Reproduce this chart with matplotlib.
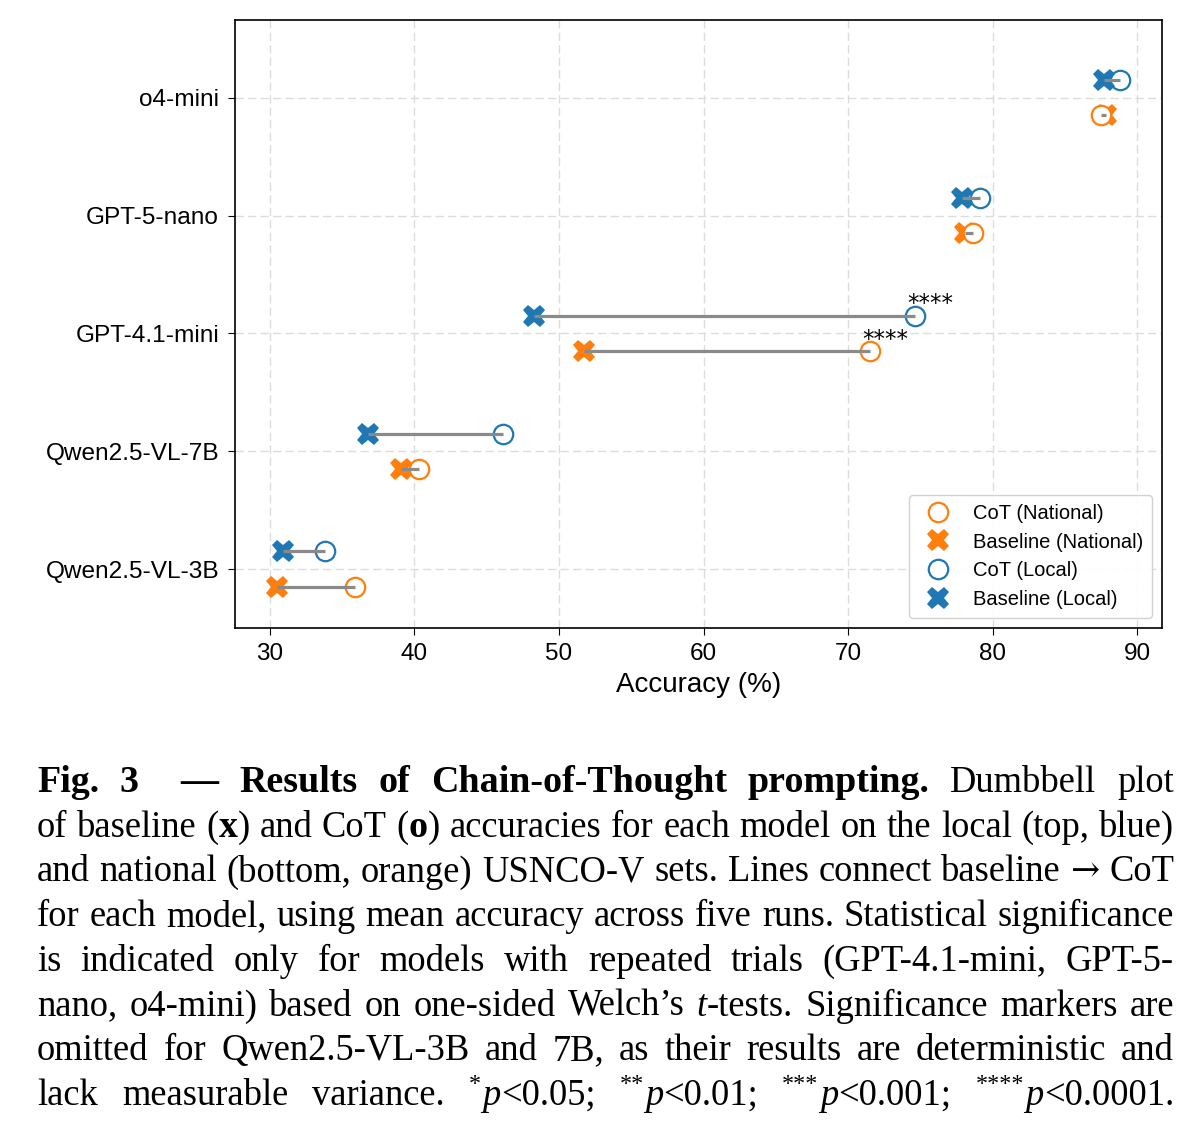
import re

import matplotlib

matplotlib.use("Agg")
import matplotlib.pyplot as plt
import numpy as np
from matplotlib.lines import Line2D

# ---- data ----
models = ["o4-mini", "GPT-5-nano", "GPT-4.1-mini", "Qwen2.5-VL-7B", "Qwen2.5-VL-3B"]
local_baseline = [87.7, 77.9, 48.3, 36.8, 30.9]
local_cot = [88.8, 79.1, 74.6, 46.1, 33.8]
national_baseline = [87.8, 78.1, 51.7, 39.1, 30.5]
national_cot = [87.5, 78.6, 71.5, 40.3, 35.9]
local_sig = ["", "", "****", "", ""]
national_sig = ["", "", "****", "", ""]
xticks = [30, 40, 50, 60, 70, 80, 90]

# caption, one entry per printed line
# {b:..} bold, {i:..} italic, {s:..} superscript, {m:..} symbol font
caption_lines = [
    "{b:Fig.} {b:3} {b:—}  {b:Results} {b:of} {b:Chain-of-Thought} {b:prompting.} Dumbbell plot",
    "of baseline ({b:x}) and CoT ({b:o}) accuracies for each model on the local (top, blue)",
    "and national (bottom, orange) USNCO-V sets. Lines connect baseline {m:→} CoT",
    "for each model, using mean accuracy across five runs. Statistical significance",
    "is indicated only for models with repeated trials (GPT-4.1-mini, GPT-5-",
    "nano, o4-mini) based on one-sided Welch’s {i:t}-tests. Significance markers are",
    "omitted for Qwen2.5-VL-3B and 7B, as their results are deterministic and",
    "lack measurable variance. {s:*}{i:p}<0.05; {s:**}{i:p}<0.01; {s:***}{i:p}<0.001; {s:****}{i:p}<0.0001.",
]

BLUE = "#1f77b4"
ORANGE = "#ff7f0e"
LINE = "#8a8a8a"
W, H, DPI = 1200, 1134, 100
SANS = ["Liberation Sans", "DejaVu Sans"]
SERIF = ["Liberation Serif", "DejaVu Serif"]

plt.rcParams["font.family"] = SANS

fig = plt.figure(figsize=(W / DPI, H / DPI), dpi=DPI)
ax = fig.add_axes([235 / W, 1 - 628 / H, (1162 - 235) / W, (628 - 20) / H])

y = np.arange(len(models))[::-1].astype(float)
off = 0.15
circle = dict(ls="none", marker="o", ms=14, mew=1.6, mfc="white")
cross = dict(ls="none", marker="X", ms=16.5, mew=0)

# draw order as in the reference: local circles under local crosses,
# national crosses under national circles, connecting lines on top
ax.plot(local_cot, y + off, mec=BLUE, zorder=3, **circle)
ax.plot(local_baseline, y + off, color=BLUE, zorder=3.1, **cross)
ax.plot(national_baseline, y - off, color=ORANGE, zorder=3.2, **cross)
ax.plot(national_cot, y - off, mec=ORANGE, zorder=3.3, **circle)

for base, cot, ys, sig in [(local_baseline, local_cot, y + off, local_sig),
                           (national_baseline, national_cot, y - off, national_sig)]:
    for b, c, yy, s in zip(base, cot, ys, sig):
        ax.plot([b, c], [yy, yy], color=LINE, lw=2.3, zorder=4, solid_capstyle="butt")
        if s:
            ax.text(c + 1.05, yy + 0.1, s, ha="center", va="center", fontsize=16.5,
                    family=["DejaVu Sans"], zorder=5)

ax.set_yticks(y)
ax.set_yticklabels(models, fontsize=17.6)
ax.set_xticks(xticks)
ax.tick_params(axis="x", labelsize=17.5, length=5, pad=5.5)
ax.tick_params(axis="y", length=5, pad=6.5)
ax.set_xlabel("Accuracy (%)", fontsize=20, labelpad=5.5)
ax.set_ylim(-0.5, 4.66)
ax.set_xlim(27.6, 91.7)
ax.grid(True, color="#dcdcdc", lw=1, dashes=(6, 3))
ax.set_axisbelow(True)
for sp in ax.spines.values():
    sp.set_linewidth(1.2)

handles = [
    Line2D([], [], mec=ORANGE, **circle),
    Line2D([], [], color=ORANGE, **cross),
    Line2D([], [], mec=BLUE, **circle),
    Line2D([], [], color=BLUE, **cross),
]
labels = ["CoT (National)", "Baseline (National)", "CoT (Local)", "Baseline (Local)"]
ax.legend(handles, labels, loc="lower right", fontsize=14.5, handletextpad=0.7,
          labelspacing=0.48, borderpad=0.45, framealpha=0.9)

# ---- caption, justified line by line ----
renderer = fig.canvas.get_renderer()
cap_size = 26.3


def parse_word(word):
    segs = []
    for st, tx, plain in re.findall(r"\{(\w):([^}]*)\}|([^{]+)", word):
        segs.append(("n", plain) if plain else (st, tx))
    return segs


def seg_props(style):
    props = dict(family=SERIF, fontsize=cap_size, weight="normal", style="normal")
    if style == "b":
        props["weight"] = "bold"
        props["fontsize"] = cap_size * 1.04
    elif style == "i":
        props["style"] = "italic"
    elif style == "s":
        props["fontsize"] = cap_size * 0.66
    elif style == "m":
        props["family"] = ["DejaVu Serif"]
        props["fontsize"] = cap_size * 0.95
    return props


def measure(text, props):
    t = fig.text(0, 0, text, **props)
    w = t.get_window_extent(renderer).width
    t.remove()
    return w


def line_words(line):
    words, gaps = [], []
    for tok in line.split(" "):
        if tok == "":
            gaps[-1] += 1
            continue
        if words:
            gaps.append(1)
        words.append(parse_word(tok))
    return words, gaps


x_left, x_right = 37, 1174
target = x_right - x_left
baseline0, step = 792, 44.7
sup_kern = 1.5
for i, line in enumerate(caption_lines):
    words, gaps = line_words(line)
    widths = [[measure(tx, seg_props(st)) + (sup_kern if st == "s" else 0) for st, tx in wd]
              for wd in words]
    word_w = [sum(ws) for ws in widths]
    unit = (target - sum(word_w)) / sum(gaps)
    x = x_left
    yb = 1 - (baseline0 + i * step) / H
    for k, (wd, ws) in enumerate(zip(words, widths)):
        cx = x
        for (st, tx), sw in zip(wd, ws):
            yy = yb + (0.42 * cap_size * DPI / 72) / H if st == "s" else yb
            fig.text(cx / W, yy, tx, ha="left", va="baseline", **seg_props(st))
            cx += sw
        x += word_w[k] + (gaps[k] * unit if k < len(gaps) else 0)

fig.savefig("out.png", dpi=DPI)
